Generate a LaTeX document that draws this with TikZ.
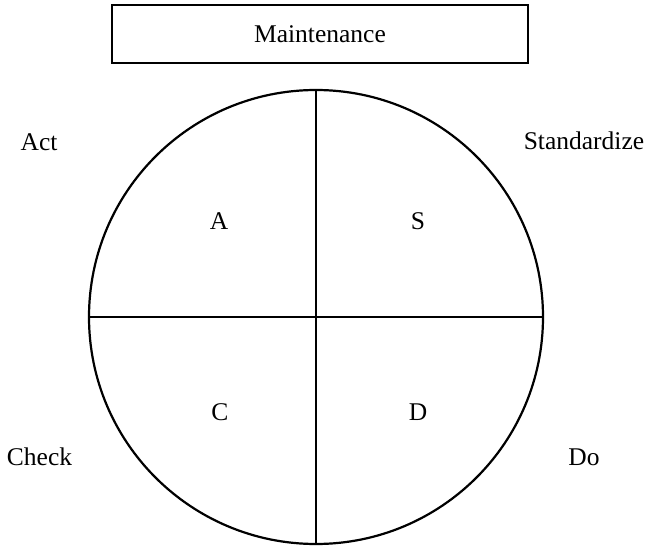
\documentclass[tikz,border=0pt]{standalone}
\usepackage{fontspec}
\setmainfont{Liberation Serif}
\begin{document}
\begin{tikzpicture}[x=1pt,y=-1pt,
  lbl/.style={font=\fontsize{25.5}{30}\selectfont, inner sep=0pt, anchor=base},
  frame/.style={draw, line width=2pt}]
\useasboundingbox (0,0) rectangle (646,546);
\node[frame, minimum width=416pt, minimum height=58pt, inner sep=0pt,
      font=\fontsize{25.5}{30}\selectfont] (box) at (320,34) {Maintenance};
\node[circle, draw, line width=2.2pt, minimum size=454pt, inner sep=0pt, outer sep=0pt] (c) at (316,317) {};
\draw[line width=1.8pt] (c.north) -- (c.south);
\draw[line width=1.8pt] (c.west) -- (c.east);
\node[lbl] (act) at (39,150) {Act};
\node[lbl] (std) at (584,149) {Standardize};
\node[lbl] (chk) at (39.5,465) {Check};
\node[lbl] (do) at (584,465) {Do};
\node[lbl] (a) at (219,229) {A};
\node[lbl] (s) at (418,229) {S};
\node[lbl] (cc) at (220,420) {C};
\node[lbl] (d) at (418,420) {D};
\end{tikzpicture}
\end{document}
